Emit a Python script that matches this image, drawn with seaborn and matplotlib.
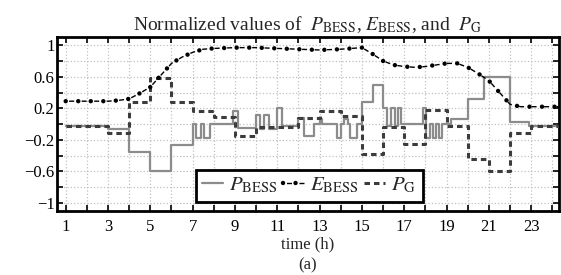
import matplotlib
matplotlib.use("Agg")
import matplotlib.pyplot as plt
import seaborn as sns
from matplotlib.ticker import MultipleLocator, FixedLocator

# step breakpoints (time in h, normalized value), drawn as steps-post
p_bess_t = [1.0, 3.0, 4.0, 5.0, 6.0, 7.0, 7.15, 7.4, 7.55, 7.8, 8.9, 9.15,
            10.0, 10.2, 10.35, 10.6, 11.0, 11.2, 12.0, 12.25, 12.75, 13.0, 13.1,
            13.8, 14.0, 14.15, 14.35, 14.45, 14.75, 15.0, 15.5, 16.0, 16.2,
            16.35, 16.55, 16.7, 16.85, 17.9, 18.05, 18.2, 18.35, 18.5, 18.65,
            18.8, 19.2, 20.0, 20.75, 22.0, 22.9, 24.3]
p_bess_v = [-0.02, -0.06, -0.36, -0.60, -0.26, 0.0, -0.18, 0.0, -0.18, 0.0, 0.17, -0.05,
            0.12, -0.06, 0.12, -0.06, 0.20, -0.02, 0.08, -0.15, 0.0, 0.06, 0.0,
            -0.18, 0.0, 0.07, 0.0, -0.18, 0.0, 0.28, 0.50, 0.20, -0.02,
            0.20, -0.02, 0.20, 0.0, 0.20, -0.18, 0.0, -0.18, 0.0, -0.18,
            0.0, 0.06, 0.32, 0.60, 0.03, -0.03, -0.03]

p_g_t = [1.0, 3.0, 4.0, 5.0, 6.0, 7.0, 8.0, 9.0, 10.0, 12.0, 13.0, 14.0, 15.0,
         16.0, 17.0, 18.0, 19.0, 20.0, 21.0, 22.0, 23.0, 24.3]
p_g_v = [-0.02, -0.12, 0.28, 0.58, 0.28, 0.17, 0.09, -0.15, -0.04, 0.08, 0.17, 0.10, -0.38,
         -0.04, -0.25, 0.18, -0.03, -0.45, -0.60, -0.12, -0.03, -0.03]

e_bess_t = [1.0, 2.0, 3.0, 3.5, 4.0, 4.5, 5.0, 5.5, 6.0, 6.5, 7.0, 7.5, 8.0, 9.0,
            10.0, 11.0, 12.0, 13.0, 14.0, 15.0, 15.5, 16.0, 16.5, 17.0, 17.5,
            18.0, 18.5, 19.0, 19.5, 20.0, 20.5, 21.0, 21.5, 22.0, 22.5, 23.0, 24.3]
e_bess_v = [0.29, 0.29, 0.29, 0.30, 0.32, 0.39, 0.47, 0.62, 0.77, 0.85, 0.91, 0.95, 0.96, 0.97,
            0.97, 0.96, 0.95, 0.94, 0.95, 0.97, 0.89, 0.80, 0.75, 0.73, 0.72,
            0.73, 0.75, 0.77, 0.77, 0.72, 0.64, 0.55, 0.40, 0.25, 0.22, 0.22, 0.22]

x_ticks = list(range(1, 24, 2))
y_ticks = [1, 0.6, 0.2, -0.2, -0.6, -1]
y_labels = ["1", "0.6", "0.2", "\u22120.2", "\u22120.6", "\u22121"]

sns.set_style("ticks")
plt.rcParams["font.family"] = ["Liberation Serif", "DejaVu Serif"]
plt.rcParams["mathtext.fontset"] = "stix"

fig, ax = plt.subplots(figsize=(5.61, 2.75), dpi=100)
fig.subplots_adjust(left=0.102, right=0.996, top=0.864, bottom=0.234)

sns.lineplot(x=p_bess_t, y=p_bess_v, ax=ax, drawstyle="steps-post",
             color="#8c8c8c", lw=1.6, zorder=3)
p_bess_line = ax.get_lines()[-1]

sns.lineplot(x=e_bess_t, y=e_bess_v, ax=ax, color="black", lw=1.0,
             linestyle=(6.5, (3.6, 5.4)), zorder=4)
e_dash = ax.get_lines()[-1]
sns.lineplot(x=e_bess_t, y=e_bess_v, ax=ax, color="black", lw=3.2,
             linestyle=(0, (0.01, 2.81)), dash_capstyle="round", zorder=4)
e_dot = ax.get_lines()[-1]

sns.lineplot(x=p_g_t, y=p_g_v, ax=ax, drawstyle="steps-post",
             color="#3c3c3c", lw=2.2, linestyle=(0, (1.8, 1.3)), zorder=3)
p_g_line = ax.get_lines()[-1]

ax.set_xlim(0.6, 24.3)
ax.set_ylim(-1.1, 1.1)
ax.xaxis.set_major_locator(FixedLocator(x_ticks))
ax.xaxis.set_minor_locator(MultipleLocator(1))
ax.yaxis.set_major_locator(FixedLocator(y_ticks))
ax.set_yticklabels(y_labels)
ax.yaxis.set_minor_locator(MultipleLocator(0.2))
ax.grid(True, which="both", color="#c0c0c0", linestyle=":", lw=0.9)
ax.tick_params(which="both", direction="in", top=True, right=True,
               length=4, width=1.2, labelsize=12, colors="black")
ax.tick_params(axis="y", pad=2)
ax.tick_params(axis="x", pad=6)
for s in ax.spines.values():
    s.set_linewidth(2)
    s.set_color("black")

ax.set_title(r"Normalized values of  $P_{\mathrm{BESS}}$, $E_{\mathrm{BESS}}$, and  $P_{\mathrm{G}}$",
             fontsize=14, pad=5)
ax.set_xlabel("time (h)", fontsize=12, labelpad=1)
fig.text(0.549, 0.022, "(a)", ha="center", fontsize=12)

leg = ax.legend([p_bess_line, (e_dash, e_dot), p_g_line],
                [r"$P_{\mathrm{BESS}}$", r"$E_{\mathrm{BESS}}$", r"$P_{\mathrm{G}}$"],
                loc="lower center", bbox_to_anchor=(0.503, 0.05), ncol=3,
                fontsize=15, frameon=True, fancybox=False, framealpha=1,
                edgecolor="black", handlelength=1.0, handletextpad=0.3,
                columnspacing=0.25, borderpad=0.3, borderaxespad=0)
leg.get_frame().set_linewidth(2)

fig.savefig("out.png", dpi=100)
